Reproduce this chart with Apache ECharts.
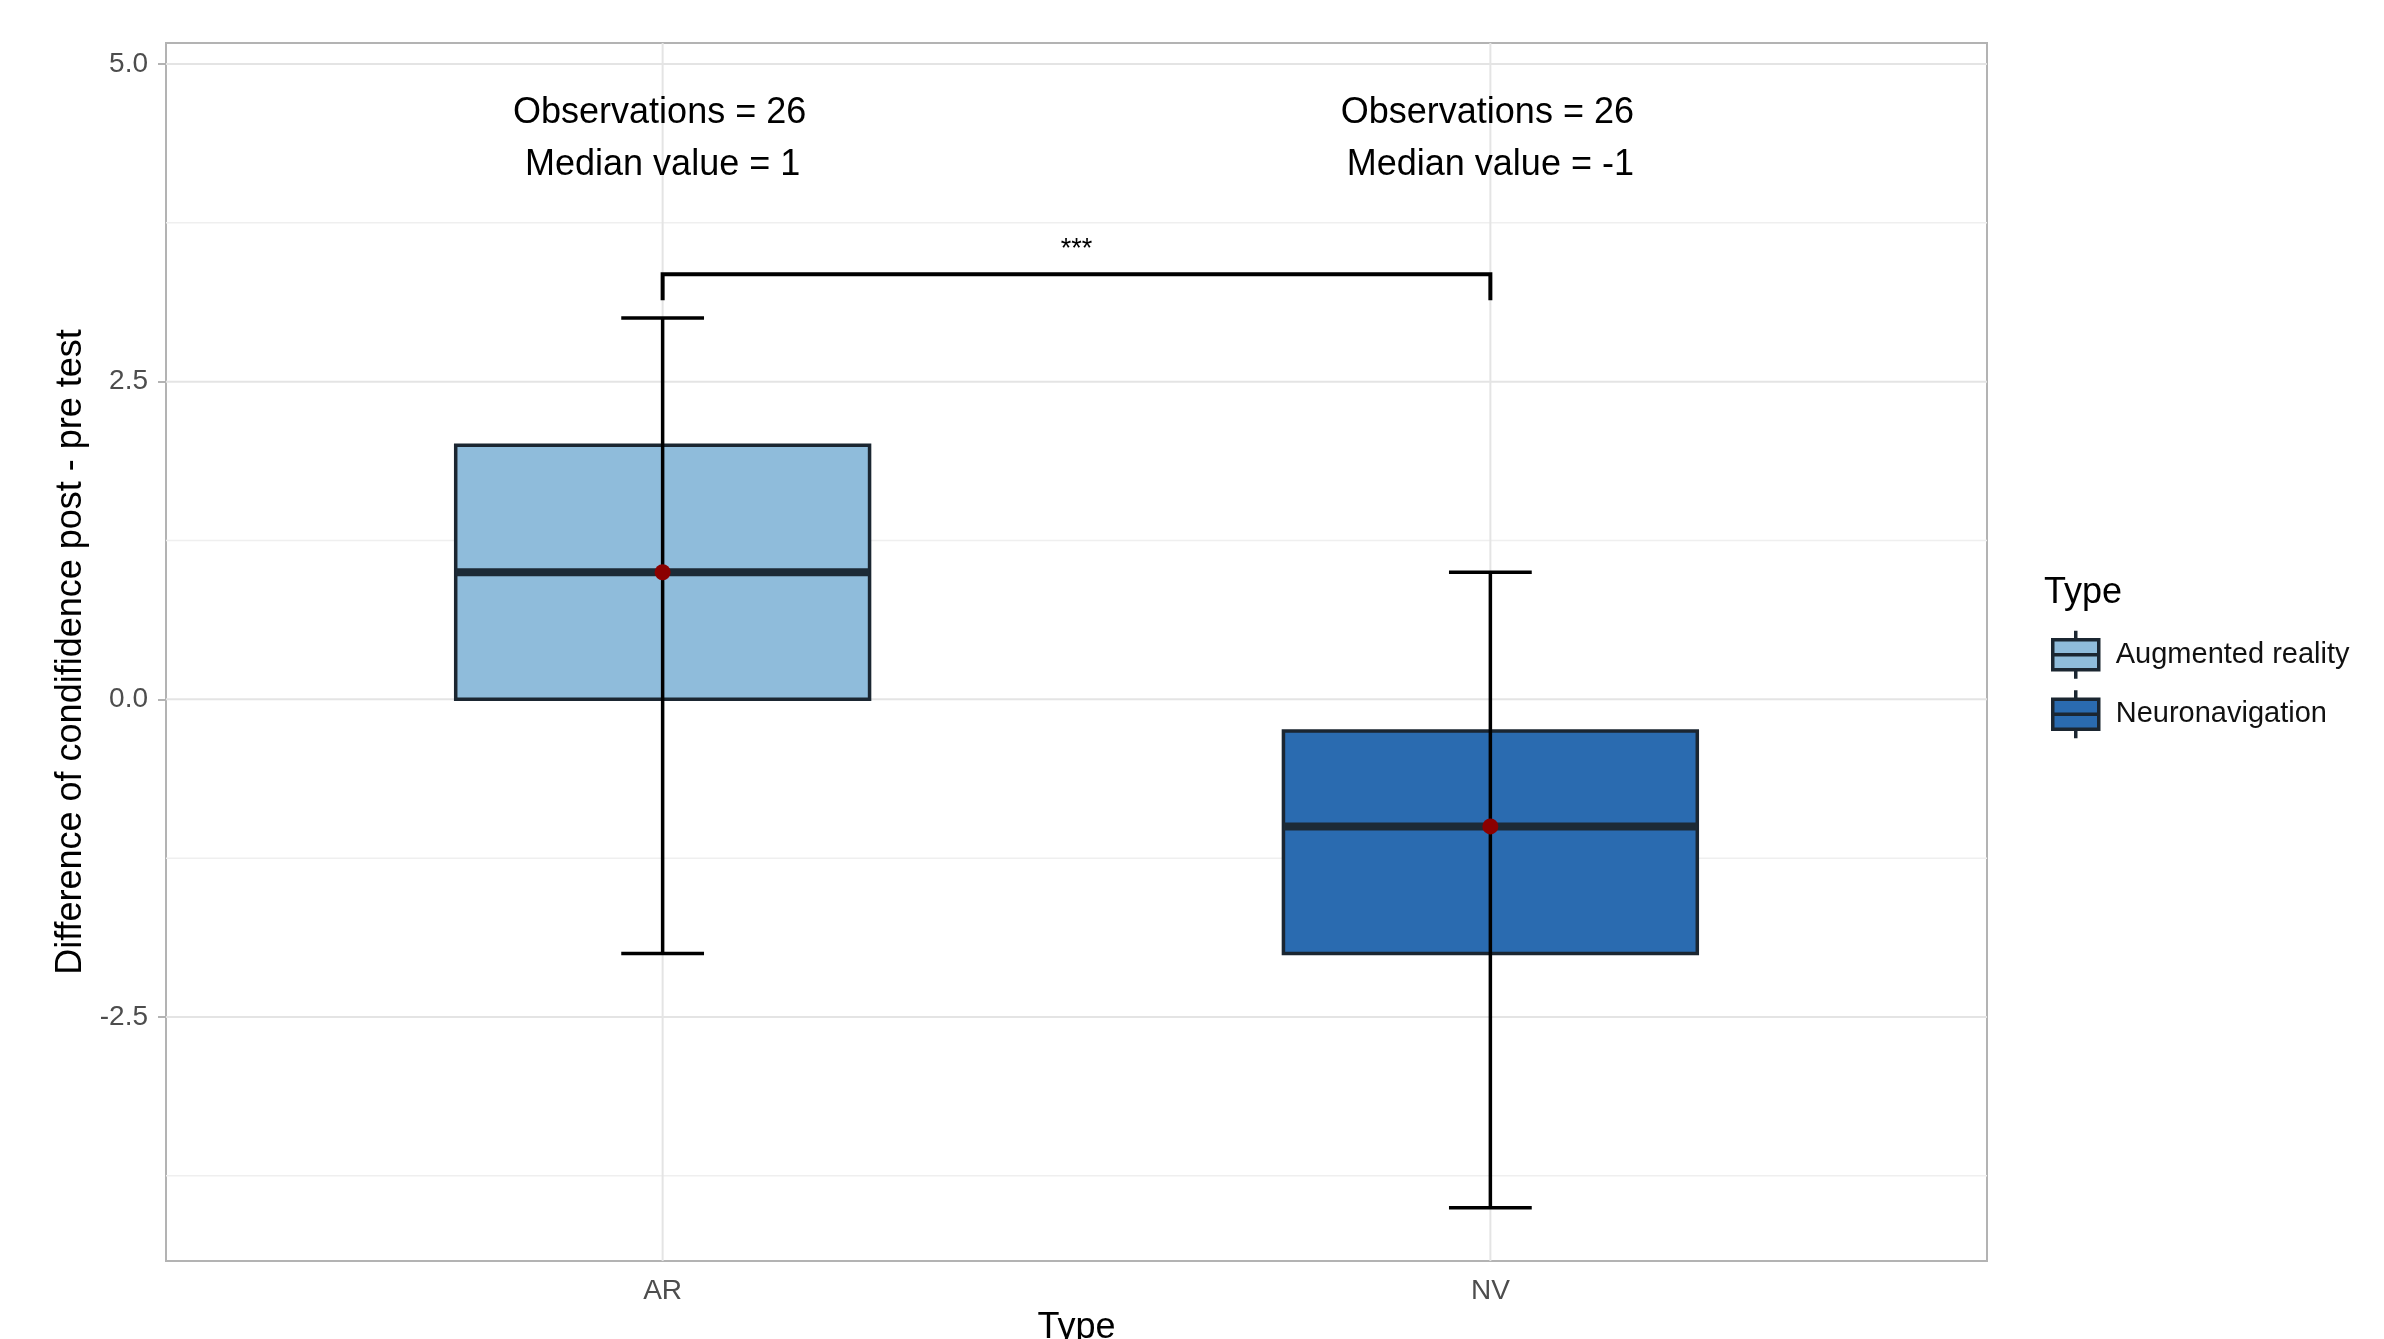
<!DOCTYPE html>
<html><head><meta charset="utf-8">
<script src="https://cdn.jsdelivr.net/npm/echarts@6/dist/echarts.min.js"></script>
<style>html,body{margin:0;padding:0;background:#fff}#c{width:2384px;height:1339px}</style>
</head><body><div id="c"></div>
<script>
// ---- data ----
const categories = ['AR', 'NV'];
const groupNames = ['Augmented reality', 'Neuronavigation'];
const whiskerLow = [-2, -4];
const q1 = [0, -2];
const medians = [1, -1];
const q3 = [2, -0.25];
const whiskerHigh = [3, 1];
const means = [1, -1];
const observations = [26, 26];
const yTickValues = [-2.5, 0, 2.5, 5.0];
const yMinorBreaks = [-3.75, -1.25, 1.25, 3.75];
const xTickValues = [1, 2];
const significance = '***';

// ---- styles ----
const FONT = 'Liberation Sans, Arial, Helvetica, sans-serif';
const fills = ['#8fbcdb', '#2a6bb0'];
const Y_OBS = 4.615, Y_MED = 4.205, Y_STAR = 3.54, Y_BRACKET = 3.345, Y_BRACKET_END = 3.14;

const chart = echarts.init(document.getElementById('c'), null, {renderer: 'canvas'});

function renderBox(params, api) {
  const x = api.value(0);
  const lo = api.value(1), a = api.value(2), m = api.value(3), b = api.value(4), hi = api.value(5), mean = api.value(6);
  const halfBox = api.size([0.5, 0])[0] / 2;
  const halfCap = api.size([0.1, 0])[0] / 2;
  const pM = api.coord([x, m]);
  const pLo = api.coord([x, lo]), pA = api.coord([x, a]), pB = api.coord([x, b]), pHi = api.coord([x, hi]), pMean = api.coord([x, mean]);
  const cx = pM[0];
  return {
    type: 'group',
    children: [
      {type: 'rect', shape: {x: cx - halfBox, y: pB[1], width: 2 * halfBox, height: pA[1] - pB[1]},
        style: {fill: api.visual('color'), stroke: '#1b2631', lineWidth: 3.5}},
      {type: 'line', shape: {x1: cx - halfBox, y1: pM[1], x2: cx + halfBox, y2: pM[1]},
        style: {stroke: '#1c2a36', lineWidth: 8}},
      {type: 'line', shape: {x1: cx, y1: pLo[1], x2: cx, y2: pHi[1]}, style: {stroke: '#000', lineWidth: 3.5}},
      {type: 'line', shape: {x1: cx - halfCap, y1: pLo[1], x2: cx + halfCap, y2: pLo[1]}, style: {stroke: '#000', lineWidth: 3.5}},
      {type: 'line', shape: {x1: cx - halfCap, y1: pHi[1], x2: cx + halfCap, y2: pHi[1]}, style: {stroke: '#000', lineWidth: 3.5}},
      {type: 'circle', shape: {cx: cx, cy: pMean[1], r: 8}, style: {fill: '#8b0000'}}
    ]
  };
}

const boxSeries = groupNames.map((name, i) => ({
  name: name,
  type: 'custom',
  z: 5,
  itemStyle: {color: fills[i], borderColor: '#1b2631', borderWidth: 3},
  renderItem: renderBox,
  encode: {x: 0, y: [1, 2, 3, 4, 5]},
  data: [[xTickValues[i], whiskerLow[i], q1[i], medians[i], q3[i], whiskerHigh[i], means[i]]]
}));

const gridSeries = {
  name: 'grid', type: 'custom', silent: true, z: 1,
  renderItem: function (params, api) {
    const cs = params.coordSys;
    const kind = api.value(0), v = api.value(1);
    if (kind === 2) {
      const p = api.coord([v, 0]);
      return {type: 'line', shape: {x1: p[0], y1: cs.y, x2: p[0], y2: cs.y + cs.height}, style: {stroke: '#e4e4e4', lineWidth: 2}};
    }
    const p = api.coord([1, v]);
    return {type: 'line', shape: {x1: cs.x, y1: p[1], x2: cs.x + cs.width, y2: p[1]},
      style: {stroke: kind === 0 ? '#e4e4e4' : '#efefef', lineWidth: kind === 0 ? 2 : 1.5}};
  },
  encode: {x: -1, y: -1},
  data: yTickValues.map(v => [0, v]).concat(yMinorBreaks.map(v => [1, v])).concat(xTickValues.map(v => [2, v]))
};

const annotSeries = {
  name: 'annot', type: 'custom', silent: true, z: 6,
  renderItem: function (params, api) {
    const x = api.value(0);
    const p1 = api.coord([x, Y_OBS]), p2 = api.coord([x, Y_MED]);
    const st = {fill: '#000', font: '36px ' + FONT, textAlign: 'center', textVerticalAlign: 'middle'};
    return {type: 'group', children: [
      {type: 'text', style: Object.assign({x: p1[0] - 3, y: p1[1], text: 'Observations = ' + api.value(1)}, st)},
      {type: 'text', style: Object.assign({x: p2[0], y: p2[1], text: 'Median value = ' + api.value(2)}, st)}
    ]};
  },
  encode: {x: 0, y: -1},
  data: xTickValues.map((x, i) => [x, observations[i], medians[i]])
};

const bracketSeries = {
  name: 'bracket', type: 'custom', silent: true, z: 6,
  renderItem: function (params, api) {
    const x1 = api.value(0), x2 = api.value(1);
    const a = api.coord([x1, Y_BRACKET_END]), b = api.coord([x1, Y_BRACKET]);
    const c = api.coord([x2, Y_BRACKET]), d = api.coord([x2, Y_BRACKET_END]);
    const s = api.coord([(x1 + x2) / 2, Y_STAR]);
    return {type: 'group', children: [
      {type: 'polyline', shape: {points: [a, b, c, d]}, style: {stroke: '#000', lineWidth: 4, fill: null}},
      {type: 'text', style: {x: s[0], y: s[1], text: significance, fill: '#000', font: '27px ' + FONT, textAlign: 'center', textVerticalAlign: 'middle'}}
    ]};
  },
  encode: {x: [0, 1], y: -1},
  data: [[xTickValues[0], xTickValues[1]]]
};

const option = {
  backgroundColor: '#ffffff',
  animation: false,
  title: {text: 'Type', left: 2039, top: 570, textStyle: {fontSize: 36, fontWeight: 'normal', color: '#000', fontFamily: FONT}},
  legend: {
    data: groupNames,
    orient: 'vertical', left: 2046, top: 624, itemWidth: 46, itemHeight: 48, itemGap: 8,
    icon: 'path://M23,0 L23,9 M0,9 L46,9 L46,39 L0,39 Z M0,24 L46,24 M23,39 L23,48',
    itemStyle: {borderColor: '#1b2631', borderWidth: 3.5},
    textStyle: {fontSize: 29, color: '#111', fontFamily: FONT, padding: [0, 0, 0, 12]},
    selectedMode: false
  },
  grid: {left: 166, right: 397, top: 43, bottom: 78, containLabel: false, outerBoundsMode: 'none',
    show: true, borderColor: '#b3b3b3', borderWidth: 2, backgroundColor: 'transparent'},
  xAxis: {
    type: 'value', min: 0.4, max: 2.6,
    name: 'Type', nameLocation: 'middle', nameGap: 46,
    nameTextStyle: {fontSize: 36, color: '#000', fontFamily: FONT},
    axisLine: {show: false},
    axisTick: {show: true, customValues: xTickValues, length: 8, lineStyle: {color: '#b3b3b3', width: 2}},
    axisLabel: {customValues: xTickValues, formatter: v => categories[Math.round(v) - 1] || '', fontSize: 28, color: '#4d4d4d', fontFamily: FONT, margin: 16},
    splitLine: {show: false}
  },
  yAxis: {
    type: 'value', min: -4.42, max: 5.165,
    name: 'Difference of condifidence post - pre test', nameLocation: 'middle', nameGap: 77, nameRotate: 90,
    nameTextStyle: {fontSize: 36, color: '#000', fontFamily: FONT},
    axisLine: {show: false},
    axisTick: {show: true, customValues: yTickValues, length: 8, lineStyle: {color: '#b3b3b3', width: 2}},
    axisLabel: {customValues: yTickValues, formatter: v => v.toFixed(1), fontSize: 28, color: '#4d4d4d', fontFamily: FONT, margin: 18},
    splitLine: {show: false}
  },
  series: [gridSeries].concat(boxSeries, [annotSeries, bracketSeries])
};
chart.setOption(option);
</script>
</body></html>
